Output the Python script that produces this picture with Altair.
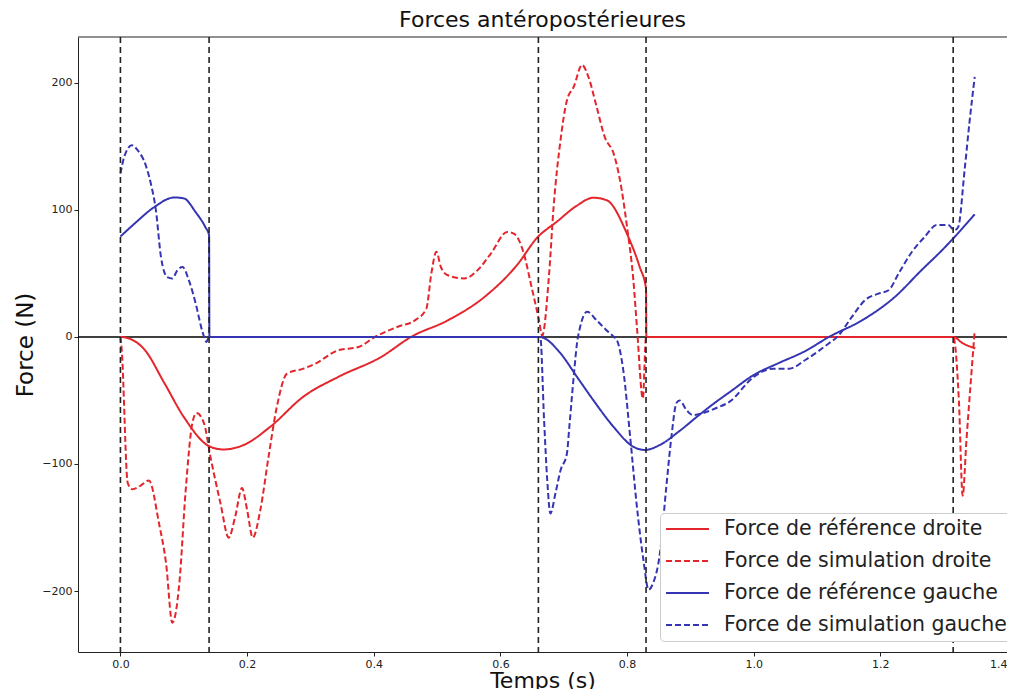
import altair as alt
import pandas as pd

# ---- data ----
names = [
    "Force de référence droite",
    "Force de simulation droite",
    "Force de référence gauche",
    "Force de simulation gauche",
]

ref_droite_t = [0, 0.015, 0.038, 0.069, 0.1, 0.142, 0.163, 0.195, 0.236, 0.289, 0.344, 0.412, 0.459,
                0.517, 0.575, 0.627, 0.658, 0.69, 0.72, 0.747, 0.768, 0.8, 0.82, 0.83, 0.8305,
                1.315, 1.33, 1.35]
ref_droite_f = [0, -1.5, -10, -36, -63, -86.5, -88.6, -85, -71, -47, -31.5, -15.7, 0,
                13, 31.5, 57, 78, 91, 103, 109.5, 107.5, 81, 55, 38, 0,
                0, -5, -9]

sim_droite_t = [0, 0.002, 0.0115, 0.019, 0.032, 0.045, 0.061, 0.072, 0.082, 0.093, 0.103, 0.1135, 0.12,
                0.132, 0.142, 0.158, 0.171, 0.181, 0.192, 0.2, 0.209, 0.221, 0.234, 0.247, 0.263,
                0.289, 0.308, 0.344, 0.376, 0.402, 0.438, 0.465, 0.483, 0.491, 0.499, 0.506, 0.517,
                0.543, 0.564, 0.585, 0.611, 0.622, 0.637, 0.648, 0.661, 0.666, 0.677, 0.684, 0.695,
                0.705, 0.716, 0.729, 0.739, 0.752, 0.765, 0.779, 0.789, 0.8, 0.81, 0.816, 0.825, 0.83,
                1.315, 1.317, 1.324, 1.33, 1.336, 1.343, 1.349]
sim_droite_f = [0, -10, -115, -120, -117, -113, -147, -178, -225, -194, -121, -68, -60,
                -68, -94, -131, -158, -142, -119, -136, -158, -136, -94, -55, -29,
                -25, -21, -10.5, -8, 0, 8, 13, 22, 50, 67, 55, 48.5,
                46, 52.5, 65.6, 82.6, 81, 65.6, 42, 13, 1, 50, 102, 155,
                186, 197, 214, 204.6, 181, 157, 144, 123, 86.5, 44.6, 5, -48.5, 0,
                0, -3, -50, -125, -81, -34, 5]

ref_gauche_t = [0, 0.022, 0.053, 0.085, 0.1, 0.119, 0.134, 0.14, 0.1405, 0.66, 0.669, 0.695, 0.721,
                0.747, 0.779, 0.81, 0.828, 0.852, 0.883, 0.915, 0.941, 0.962, 1.0, 1.04, 1.082,
                1.119, 1.171, 1.223, 1.265, 1.297, 1.315, 1.349]
ref_gauche_f = [79, 89, 102, 109.7, 109, 98, 86.5, 80, 0, 0, -1, -13, -31.5,
                -50, -71, -86.5, -89, -85, -74, -61, -51, -43.5, -30, -20.5, -11,
                0, 13, 31.5, 52.5, 68, 77.4, 96.5]

sim_gauche_t = [0, 0.006, 0.018, 0.027, 0.04, 0.048, 0.056, 0.064, 0.074, 0.082, 0.09, 0.098, 0.108,
                0.119, 0.129, 0.136, 0.14, 0.66, 0.663, 0.669, 0.674, 0.679, 0.687, 0.695, 0.705,
                0.709, 0.716, 0.721, 0.726, 0.737, 0.752, 0.768, 0.779, 0.784, 0.794, 0.805, 0.815,
                0.826, 0.834, 0.841, 0.852, 0.862, 0.87, 0.878, 0.883, 0.894, 0.904, 0.92, 0.941,
                0.962, 1.0, 1.03, 1.056, 1.082, 1.119, 1.132, 1.155, 1.176, 1.197, 1.213, 1.229,
                1.25, 1.27, 1.289, 1.307, 1.317, 1.323, 1.333, 1.341, 1.349]
sim_gauche_f = [128.5, 141.6, 150.8, 147, 135, 120.7, 99.7, 63, 47, 46, 52.5, 55, 44.6,
                26, 5, -4, 0, 0, 0, -65.5, -113, -139, -123, -105, -92,
                -70, -30, -5, 8, 19.7, 13, 5, 0, -2.6, -26, -79, -131,
                -176, -199, -194, -170, -118, -79, -52, -50, -57.7, -61.6, -60, -56,
                -51, -31.5, -25, -25, -18, -5, 0, 15.7, 29, 34, 36.7, 50,
                67, 78.7, 88, 88, 84, 86.5, 131, 170, 204.6]

event_times = [0, 0.14, 0.66, 0.83, 1.315]
x_ticks = [0, 0.2, 0.4, 0.6, 0.8, 1.0, 1.2, 1.4]
y_ticks = [-200, -100, 0, 100, 200]

colors = ["#e4262c", "#e4262c", "#3535b4", "#3535b4"]
dashes = [[1, 0], [6, 3], [1, 0], [6, 3]]

rows = []
for name, ts, fs in zip(names,
                        [ref_droite_t, sim_droite_t, ref_gauche_t, sim_gauche_t],
                        [ref_droite_f, sim_droite_f, ref_gauche_f, sim_gauche_f]):
    for i, (t, f) in enumerate(zip(ts, fs)):
        rows.append({"t": t, "F": f, "serie": name, "i": i})
df = pd.DataFrame(rows)

W, H = 929, 615
FONT = "DejaVu Sans"

xsc = alt.Scale(domain=[-0.067, 1.4], nice=False, zero=False)
ysc = alt.Scale(domain=[-248, 236], nice=False, zero=False)

# line-shaped legend symbol: starts at the symbol column's left edge, 43px long
legend = alt.Legend(
    title=None, orient="none", legendX=582, legendY=476,
    symbolType="M-1,0H3.3", symbolSize=400, symbolStrokeWidth=2,
    labelFontSize=20.5, labelFont=FONT, labelColor="#222", labelLimit=500,
    labelOffset=37, padding=5, rowPadding=10,
    fillColor="white", strokeColor="#cccccc", cornerRadius=4,
)

zero_line = alt.Chart(pd.DataFrame({"F": [0]})).mark_rule(
    color="black", strokeWidth=1.5).encode(y=alt.Y("F:Q", scale=ysc))

lines = alt.Chart(df).mark_line(strokeWidth=2, clip=True, interpolate="monotone").encode(
    x=alt.X("t:Q", scale=xsc, title="Temps (s)",
            axis=alt.Axis(values=x_ticks, format=".1f", grid=False, titlePadding=1,
                          titleFontSize=22)),
    y=alt.Y("F:Q", scale=ysc, title="Force (N)",
            axis=alt.Axis(values=y_ticks, format="d", grid=False, titlePadding=4,
                          titleFontSize=23)),
    color=alt.Color("serie:N", scale=alt.Scale(domain=names, range=colors), legend=legend),
    strokeDash=alt.StrokeDash("serie:N", scale=alt.Scale(domain=names, range=dashes), legend=legend),
    order=alt.Order("i:Q"),
)

vlines = alt.Chart(pd.DataFrame({"t": event_times})).mark_rule(
    color="#222", strokeDash=[6, 4], strokeWidth=1.6).encode(x=alt.X("t:Q", scale=xsc))

top_spine = alt.Chart(pd.DataFrame({"a": [0]})).mark_rule(color="#222", strokeWidth=1).encode(
    x=alt.value(0), x2=alt.value(W), y=alt.value(0))

chart = alt.layer(zero_line, lines, vlines, top_spine).properties(
    width=W, height=H,
    title=alt.TitleParams("Forces antéropostérieures", fontSize=22, font=FONT,
                          fontWeight="normal", color="#111", offset=4, anchor="middle"),
    autosize=alt.AutoSizeParams(type="none"),
    padding={"left": 70, "top": 29, "right": 0, "bottom": 37},
).configure(font=FONT).configure_view(stroke=None).configure_axis(
    labelFontSize=11, labelColor="#222", labelFont=FONT,
    titleFont=FONT, titleFontWeight="normal", titleColor="#111",
    domainColor="#222", tickColor="#222", tickSize=4, labelPadding=2,
)

chart.save("out.html", embed_options={"renderer": "svg", "actions": False})
